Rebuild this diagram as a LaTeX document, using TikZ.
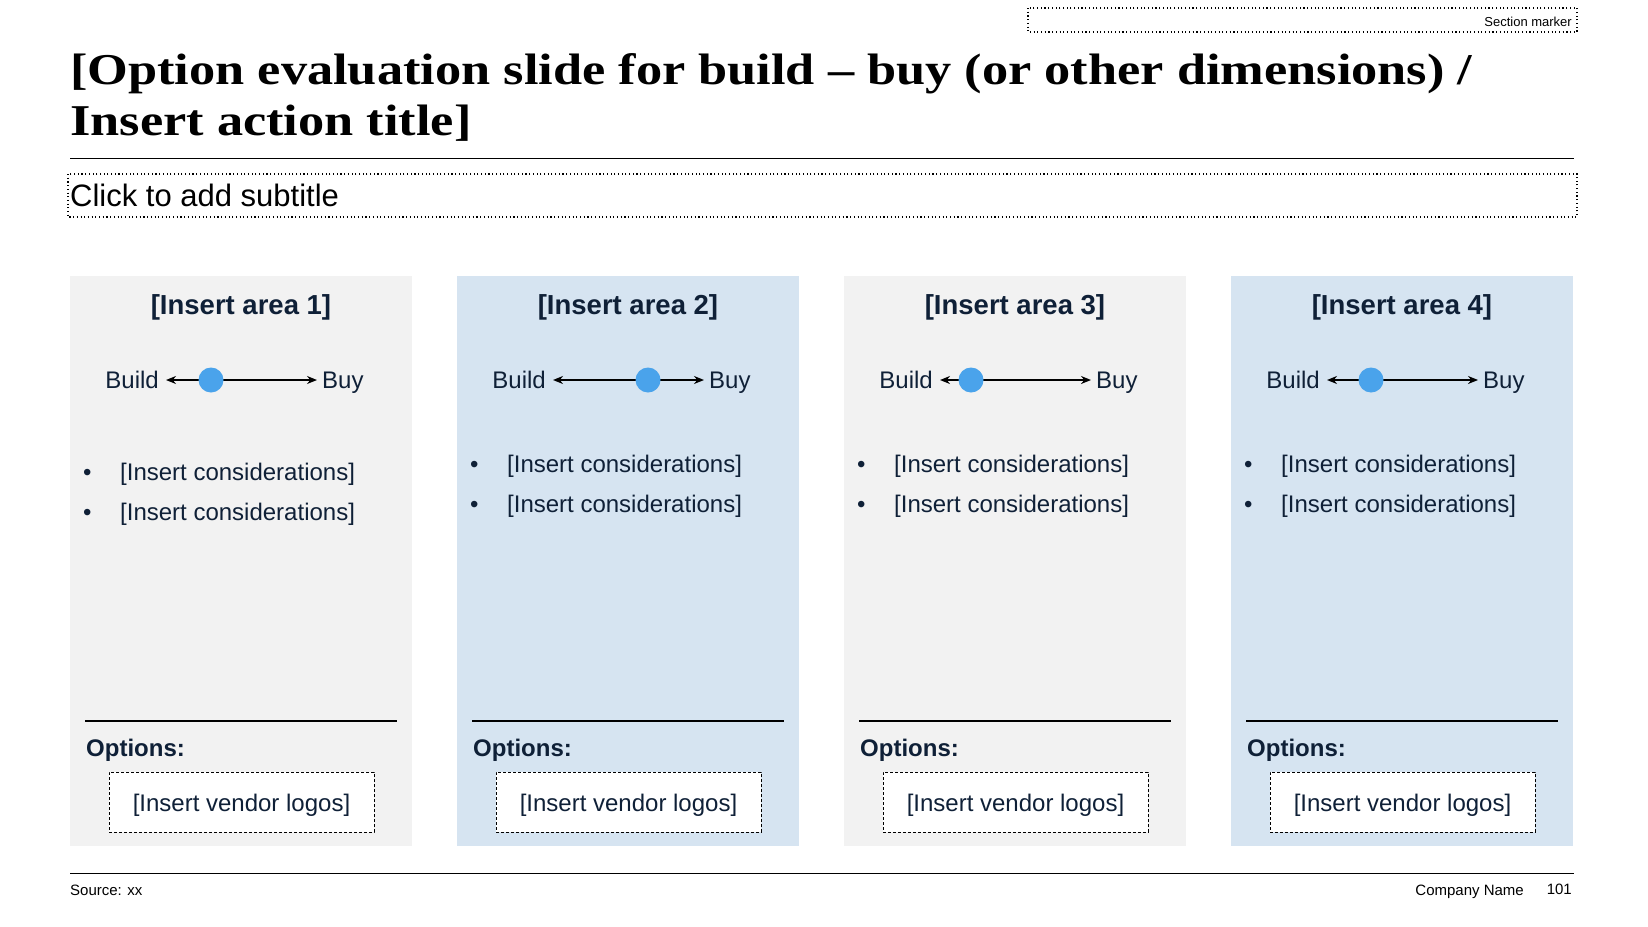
\documentclass[tikz,border=0pt]{standalone}
\usepackage{fontspec}
\setmainfont{Liberation Sans}
\newfontfamily\titlefont[FakeStretch=1.19]{Liberation Serif}
\usetikzlibrary{arrows.meta}
\definecolor{colgray}{HTML}{F2F2F2}
\definecolor{colblue}{HTML}{D6E4F1}
\definecolor{navy}{HTML}{0F2037}
\definecolor{dotblue}{HTML}{4AA3EB}
\tikzset{
  panel/.style={fill=#1, draw=none},
  headtxt/.style={font=\fontsize{27.5}{32}\selectfont\bfseries, text=navy, inner sep=0pt},
  bodytxt/.style={font=\fontsize{24}{28}\selectfont, text=navy, inner sep=0pt},
  slider/.style={line width=1.6pt, {Stealth[length=10pt,width=8pt]}-{Stealth[length=10pt,width=8pt]}},
  knob/.style={circle, fill=dotblue, minimum size=25pt, inner sep=0pt},
  sep/.style={line width=1.5pt, black},
  logobox/.style={draw=black, fill=white, line width=0.8pt, dash pattern=on 3pt off 2pt, minimum width=265pt, minimum height=60pt, inner sep=0pt},
  dotbox/.style={draw=black, line width=1.1pt, dash pattern=on 1.1pt off 2.6pt},
  smalltxt/.style={font=\fontsize{15}{18}\selectfont, text=black, inner sep=0pt}
}
\begin{document}
\begin{tikzpicture}[x=1pt,y=-1pt]
\useasboundingbox (0,0) rectangle (1648,926);
\fill[white] (0,0) rectangle (1648,926);
% section marker
\draw[dotbox] (1028,8) rectangle (1577,32);
\node[anchor=base east, font=\fontsize{13}{15}\selectfont, inner sep=0pt] (sec) at (1572,26) {Section marker};
% title
\node[anchor=base west, inner sep=0pt, font=\titlefont\fontsize{44}{50}\selectfont\bfseries] (t1) at (70,84) {[Option evaluation slide for build – buy (or other dimensions) /};
\node[anchor=base west, inner sep=0pt, font=\titlefont\fontsize{44}{50}\selectfont\bfseries] (t2) at (70,135) {Insert action title]};
\draw[line width=1pt] (70,158) coordinate (tl) -- (1574,158) coordinate (tr);
% subtitle
\draw[dotbox] (68,174) rectangle (1577,217);
\node[anchor=base west, inner sep=0pt, font=\fontsize{31}{36}\selectfont] (sub) at (70,206) {Click to add subtitle};
% columns
\foreach \i/\x/\c/\d/\b in {1/70/colgray/141/480, 2/457/colblue/191/472, 3/844/colgray/127/472, 4/1231/colblue/140/472}{
  \fill[panel=\c] (\x,276) rectangle ++(342,570);
  \node[headtxt] (head\i) at (\x+171,307) {[Insert area \i]};
  \coordinate (sl\i) at (\x+96,380);
  \coordinate (sr\i) at (\x+247,380);
  \draw[slider] (sl\i) -- (sr\i);
  \node[knob] (knob\i) at (\x+\d,380) {};
  \node[bodytxt, anchor=base east] (build\i) at (\x+89,388) {Build};
  \node[bodytxt, anchor=base west] (buy\i) at (\x+252,388) {Buy};
  \node[bodytxt, anchor=base west] (ba\i) at (\x+13,\b) {\textbullet};
  \node[bodytxt, anchor=base west] (ca\i) at (\x+50,\b) {[Insert considerations]};
  \node[bodytxt, anchor=base west] (bb\i) at (\x+13,\b+40) {\textbullet};
  \node[bodytxt, anchor=base west] (cb\i) at (\x+50,\b+40) {[Insert considerations]};
  \coordinate (rl\i) at (\x+15,721);
  \coordinate (rr\i) at (\x+327,721);
  \draw[sep] (rl\i) -- (rr\i);
  \node[bodytxt, font=\fontsize{24}{28}\selectfont\bfseries, anchor=base west] (opt\i) at (\x+16,756) {Options:};
  \node[logobox] (logo\i) at (\x+171.5,802) {};
  \node[bodytxt, anchor=base] (logotxt\i) at (\x+171.5,811) {[Insert vendor logos]};
}
% footer
\draw[line width=1pt] (70,873) coordinate (fl) -- (1574,873) coordinate (fr);
\node[smalltxt, anchor=base west] (src) at (70,895) {Source: xx};
\node[smalltxt, anchor=base east] (comp) at (1524,895) {Company Name};
\node[smalltxt, anchor=base east] (pg) at (1572,894) {101};
\end{tikzpicture}
\end{document}
